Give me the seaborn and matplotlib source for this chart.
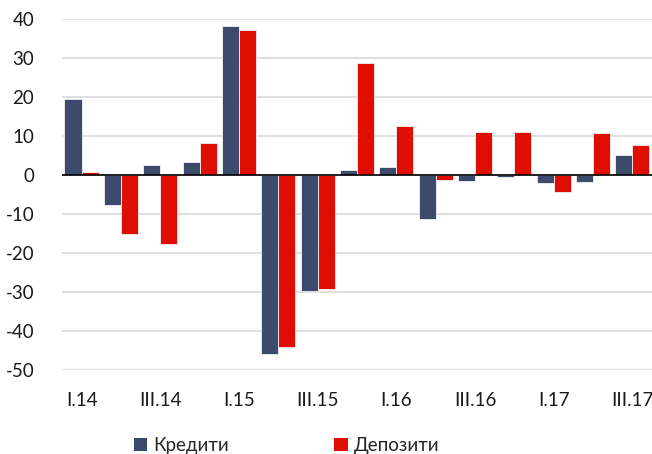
import matplotlib
matplotlib.use("Agg")
import matplotlib.pyplot as plt
import seaborn as sns
import pandas as pd
from matplotlib.patches import Patch

quarters = ["I.14", "II.14", "III.14", "IV.14", "I.15", "II.15", "III.15", "IV.15",
            "I.16", "II.16", "III.16", "IV.16", "I.17", "II.17", "III.17"]
credits = [19.5, -7.7, 2.6, 3.3, 38.2, -46.0, -29.7, 1.3,
           2.0, -11.2, -1.5, -0.6, -2.1, -1.7, 5.1]
deposits = [0.8, -15.0, -17.8, 8.1, 37.1, -44.0, -29.1, 28.8,
            12.7, -1.3, 11.1, 11.0, -4.3, 10.9, 7.8]
series_names = ["Кредити", "Депозити"]
colors = ["#3C4A6B", "#E00D02"]
yticks = [40, 30, 20, 10, 0, -10, -20, -30, -40, -50]

df = pd.DataFrame({
    "quarter": quarters * 2,
    "value": credits + deposits,
    "series": [series_names[0]] * len(quarters) + [series_names[1]] * len(quarters),
})

sns.set_theme(style="white")
plt.rcParams["font.family"] = ["Lato", "DejaVu Sans"]
plt.rcParams["axes.unicode_minus"] = False

fig = plt.figure(figsize=(6.52, 4.54), dpi=100)
ax = fig.add_axes([0.095, 0.185, 0.905, 0.773])

sns.barplot(data=df, x="quarter", y="value", hue="series", order=quarters,
            hue_order=series_names, palette=colors, saturation=1, width=0.87, gap=0,
            edgecolor="#F2F2F2", linewidth=0.6, ax=ax, legend=False)

ax.set_ylim(-50, 40)
ax.set_yticks(yticks)
ax.yaxis.grid(True, color="#D9D9D9", linewidth=1.2)
ax.set_axisbelow(True)
ax.axhline(0, color="black", linewidth=1.2, zorder=3)
for s in ax.spines.values():
    s.set_visible(False)

ax.set_xticks(range(0, len(quarters), 2))
ax.set_xticklabels(quarters[::2])
ax.tick_params(axis="x", length=0, pad=16, labelsize=13.5, colors="#1a1a1a")
ax.tick_params(axis="y", length=0, pad=20, labelsize=13.5, colors="#1a1a1a")
ax.set_xlabel("")
ax.set_ylabel("")

handles = [Patch(facecolor=c, edgecolor="none") for c in colors]
fig.legend(handles, series_names, loc="center", bbox_to_anchor=(0.44, 0.018),
           ncol=2, frameon=False, fontsize=13.5, handlelength=0.7, handleheight=0.7,
           handletextpad=0.35, columnspacing=5.6)

fig.savefig("out.png", dpi=100)
